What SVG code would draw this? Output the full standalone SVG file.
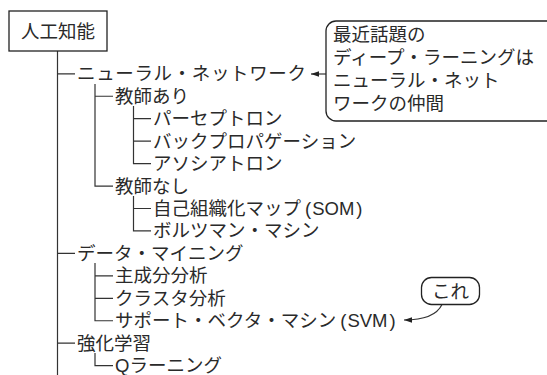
<svg xmlns="http://www.w3.org/2000/svg" width="547" height="375" viewBox="0 0 547 375">
<style>
text{font-family:"Liberation Sans","Noto Sans CJK JP",sans-serif;font-size:18.5px;fill:#2a2a2a}
.ln{stroke:#333;stroke-width:1.2;fill:none}
.bx{fill:#fff;stroke:#222;stroke-width:1.3}
</style>
<defs>
<marker id="ah" viewBox="0 0 10 10" refX="10" refY="5" markerWidth="8" markerHeight="8" markerUnits="userSpaceOnUse" orient="auto">
<path d="M0,1.5 L10,5 L0,8.5 z" fill="#222"/>
</marker>
</defs>
<rect width="547" height="375" fill="#fff"/>
<g id="connectors">
<path class="ln" d="M57.5,51 V375"/>
<path class="ln" d="M57.5,73.8 H75 M57.5,253.4 H75 M57.5,343.2 H75"/>
<path class="ln" d="M95,84 V186.05 H113 M95,96.25 H113"/>
<path class="ln" d="M133.5,106 V163.6 H151 M133.5,118.7 H151 M133.5,141.15 H151"/>
<path class="ln" d="M133.5,196 V230.95 H151 M133.5,208.5 H151"/>
<path class="ln" d="M95,263 V320.75 H113 M95,275.85 H113 M95,298.3 H113"/>
<path class="ln" d="M95,353 V365.65 H113"/>
<path class="ln" d="M326,74 H311" marker-end="url(#ah)"/>
<path class="ln" d="M442,304.5 C437,315 425,320 404,320" marker-end="url(#ah)"/>
</g>
<g id="root"><rect class="bx" x="9" y="11" width="98" height="40" stroke-width="2"/><text x="58" y="37.5" text-anchor="middle">人工知能</text></g>
<g id="n1"><text x="77" y="80.3" textLength="229" lengthAdjust="spacing">ニューラル・ネットワーク</text></g>
<g id="n2"><text x="115" y="102.75">教師あり</text></g>
<g id="n3"><text x="153" y="125.2">パーセプトロン</text></g>
<g id="n4"><text x="153" y="147.65">バックプロパゲーション</text></g>
<g id="n5"><text x="153" y="170.1">アソシアトロン</text></g>
<g id="n6"><text x="115" y="192.55">教師なし</text></g>
<g id="n7"><text x="153" y="215">自己組織化マップ<tspan dx="4">(</tspan><tspan dx="1">SOM</tspan><tspan dx="2">)</tspan></text></g>
<g id="n8"><text x="153" y="237.45">ボルツマン・マシン</text></g>
<g id="n9"><text x="77" y="259.9">データ・マイニング</text></g>
<g id="n10"><text x="115" y="282.35">主成分分析</text></g>
<g id="n11"><text x="115" y="304.8">クラスタ分析</text></g>
<g id="n12"><text x="115" y="327.25">サポート・ベクタ・マシン<tspan dx="4">(</tspan><tspan dx="1">SVM</tspan><tspan dx="2">)</tspan></text></g>
<g id="n13"><text x="77" y="349.7">強化学習</text></g>
<g id="n14"><text x="115" y="372.15">Qラーニング</text></g>
<g id="note1"><rect class="bx" x="326" y="21" width="232" height="100" rx="10"/>
<text x="333" y="41">最近話題の</text>
<text x="333" y="64">ディープ・ラーニングは</text>
<text x="333" y="87">ニューラル・ネット</text>
<text x="333" y="110">ワークの仲間</text></g>
<g id="note2"><rect class="bx" x="421.5" y="277.5" width="58" height="27" rx="10"/><text x="450.5" y="297.5" text-anchor="middle">これ</text></g>
</svg>
